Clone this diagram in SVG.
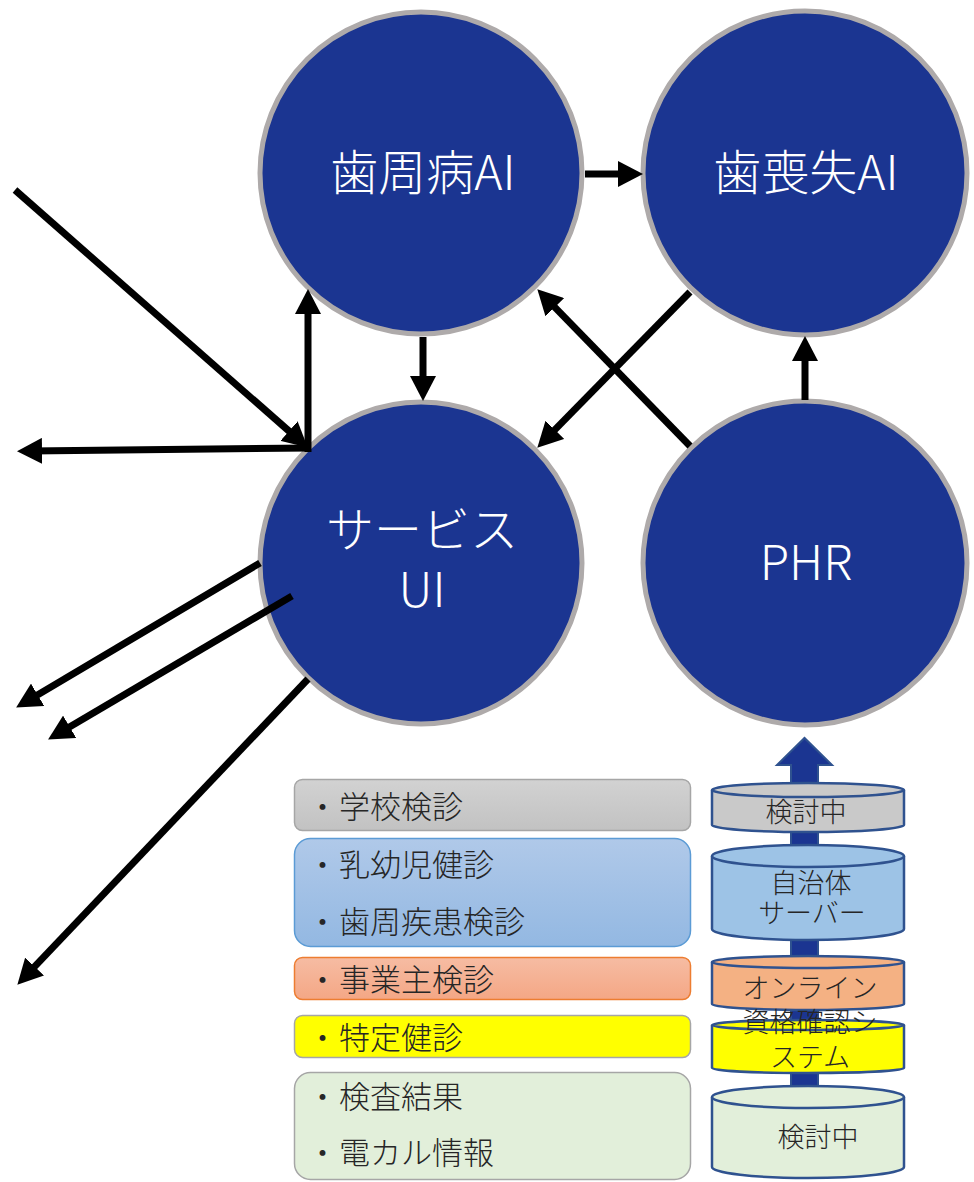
<svg xmlns="http://www.w3.org/2000/svg" width="974" height="1182" viewBox="0 0 974 1182">
<defs>
<style>
.node{fill:#1b3591;stroke:#aeaaaa;stroke-width:5}
.nl{font-family:"Noto Sans CJK JP","Noto Sans",sans-serif;font-size:48px;fill:#ffffff;text-anchor:middle;font-weight:300}
.conn{stroke:#000;stroke-width:7;fill:none;marker-end:url(#ah)}
.bt{font-family:"Noto Sans CJK JP",sans-serif;font-size:31px;fill:#262626;font-weight:300}
.ct{font-family:"Noto Sans CJK JP",sans-serif;font-size:27px;fill:#262626;text-anchor:middle;font-weight:300}
.cyl{stroke:#2f528f;stroke-width:2.5}
</style>
<marker id="ah" markerWidth="26" markerHeight="26" refX="12" refY="13" orient="auto" markerUnits="userSpaceOnUse"><path d="M0,0 L25,13 L0,26 z" fill="#000"/></marker>
<linearGradient id="gGray" x1="0" y1="0" x2="0" y2="1"><stop offset="0" stop-color="#d2d2d2"/><stop offset="1" stop-color="#c2c2c2"/></linearGradient>
<linearGradient id="gBlue" x1="0" y1="0" x2="0" y2="1"><stop offset="0" stop-color="#b0c9e9"/><stop offset="1" stop-color="#93b8e2"/></linearGradient>
<linearGradient id="gOr" x1="0" y1="0" x2="0" y2="1"><stop offset="0" stop-color="#f6bca3"/><stop offset="1" stop-color="#f4a785"/></linearGradient>
</defs>
<rect width="974" height="1182" fill="#fff"/>

<g id="n-shishuubyou"><circle class="node" cx="421" cy="173" r="161"/><text class="nl" x="423" y="190">歯周病AI</text></g>
<g id="n-shisoushitsu"><circle class="node" cx="805" cy="173" r="162"/><text class="nl" x="806" y="190">歯喪失AI</text></g>
<g id="n-service"><circle class="node" cx="421" cy="563" r="161"/><text class="nl" x="422" y="547">サービス</text><text class="nl" x="422" y="607">UI</text></g>
<g id="n-phr"><circle class="node" cx="805" cy="563" r="162"/><text class="nl" x="806" y="580">PHR</text></g>

<g id="connectors">
<line class="conn" x1="585" y1="174" x2="630" y2="174"/>
<line class="conn" x1="423" y1="337" x2="423" y2="388"/>
<line class="conn" x1="805" y1="400" x2="805" y2="349"/>
<line class="conn" x1="690" y1="292" x2="546.4" y2="438.4"/>
<line class="conn" x1="690" y1="446" x2="546.4" y2="298.6"/>
<line class="conn" x1="15" y1="190" x2="298" y2="439"/>
<line class="conn" x1="308" y1="452" x2="308" y2="302"/>
<line class="conn" x1="311" y1="448" x2="30" y2="451"/>
<line class="conn" x1="260" y1="563" x2="27.3" y2="700.9"/>
<line class="conn" x1="292" y1="596" x2="59.3" y2="732.9"/>
<line class="conn" x1="308" y1="679" x2="26.3" y2="975.3"/>
</g>

<g id="box-gakkou"><rect x="294.5" y="779.5" width="396" height="51" rx="8" fill="url(#gGray)" stroke="#a6a6a6" stroke-width="1.5"/><text class="bt" y="818"><tspan x="307">・</tspan><tspan x="339">学校検診</tspan></text></g>
<g id="box-nyuuyouji"><rect x="294.5" y="838.5" width="396" height="108" rx="16" fill="url(#gBlue)" stroke="#5b9bd5" stroke-width="1.5"/><text class="bt" y="876"><tspan x="307">・</tspan><tspan x="339">乳幼児健診</tspan></text><text class="bt" y="933"><tspan x="307">・</tspan><tspan x="339">歯周疾患検診</tspan></text></g>
<g id="box-jigyounushi"><rect x="294.5" y="957.5" width="396" height="42" rx="8" fill="url(#gOr)" stroke="#ed7d31" stroke-width="1.5"/><text class="bt" y="991"><tspan x="307">・</tspan><tspan x="339">事業主検診</tspan></text></g>
<g id="box-tokutei"><rect x="294.5" y="1015.5" width="396" height="42" rx="8" fill="#ffff00" stroke="#a6a6a6" stroke-width="1.5"/><text class="bt" y="1049"><tspan x="307">・</tspan><tspan x="339">特定健診</tspan></text></g>
<g id="box-kensa"><rect x="294.5" y="1072.5" width="396" height="107" rx="16" fill="#e2efda" stroke="#a6a6a6" stroke-width="1.5"/><text class="bt" y="1108"><tspan x="307">・</tspan><tspan x="339">検査結果</tspan></text><text class="bt" y="1164"><tspan x="307">・</tspan><tspan x="339">電カル情報</tspan></text></g>

<g id="big-arrow"><path d="M791,1092 L791,765 L777,765 L804.5,738 L832,765 L818,765 L818,1092 Z" fill="#1b3591" stroke="#2f528f" stroke-width="2"/></g>

<g id="cyl-kentou1"><path class="cyl" d="M712,790 L712,825 A96,7 0 0 0 904,825 L904,790" fill="#c9c9c9"/><ellipse class="cyl" cx="808" cy="790" rx="96" ry="7" fill="#c9c9c9"/><text class="ct" x="806" y="822">検討中</text></g>
<g id="cyl-jichitai"><path class="cyl" d="M712,856 L712,929 A96,11 0 0 0 904,929 L904,856" fill="#9dc3e6"/><ellipse class="cyl" cx="808" cy="856" rx="96" ry="11" fill="#9dc3e6"/><text class="ct" x="811" y="893">自治体</text><text class="ct" x="812" y="923">サーバー</text></g>
<g id="cyl-online"><path class="cyl" d="M712,962 L712,1004 A96,6 0 0 0 904,1004 L904,962" fill="#f4b183"/><ellipse class="cyl" cx="808" cy="962" rx="96" ry="6" fill="#f4b183"/></g>
<g id="cyl-shikaku"><path class="cyl" d="M712,1025 L712,1068 A96,5 0 0 0 904,1068 L904,1025" fill="#ffff00"/><ellipse class="cyl" cx="808" cy="1025" rx="96" ry="5" fill="#ffff00"/><text class="ct" x="810" y="998">オンライン</text><text class="ct" x="810" y="1032">資格確認シ</text><text class="ct" x="810" y="1067">ステム</text></g>
<g id="cyl-kentou2"><path class="cyl" d="M712,1097 L712,1167 A96,11 0 0 0 904,1167 L904,1097" fill="#e2efda"/><ellipse class="cyl" cx="808" cy="1097" rx="96" ry="11" fill="#e2efda"/><text class="ct" x="818" y="1147">検討中</text></g>
</svg>
